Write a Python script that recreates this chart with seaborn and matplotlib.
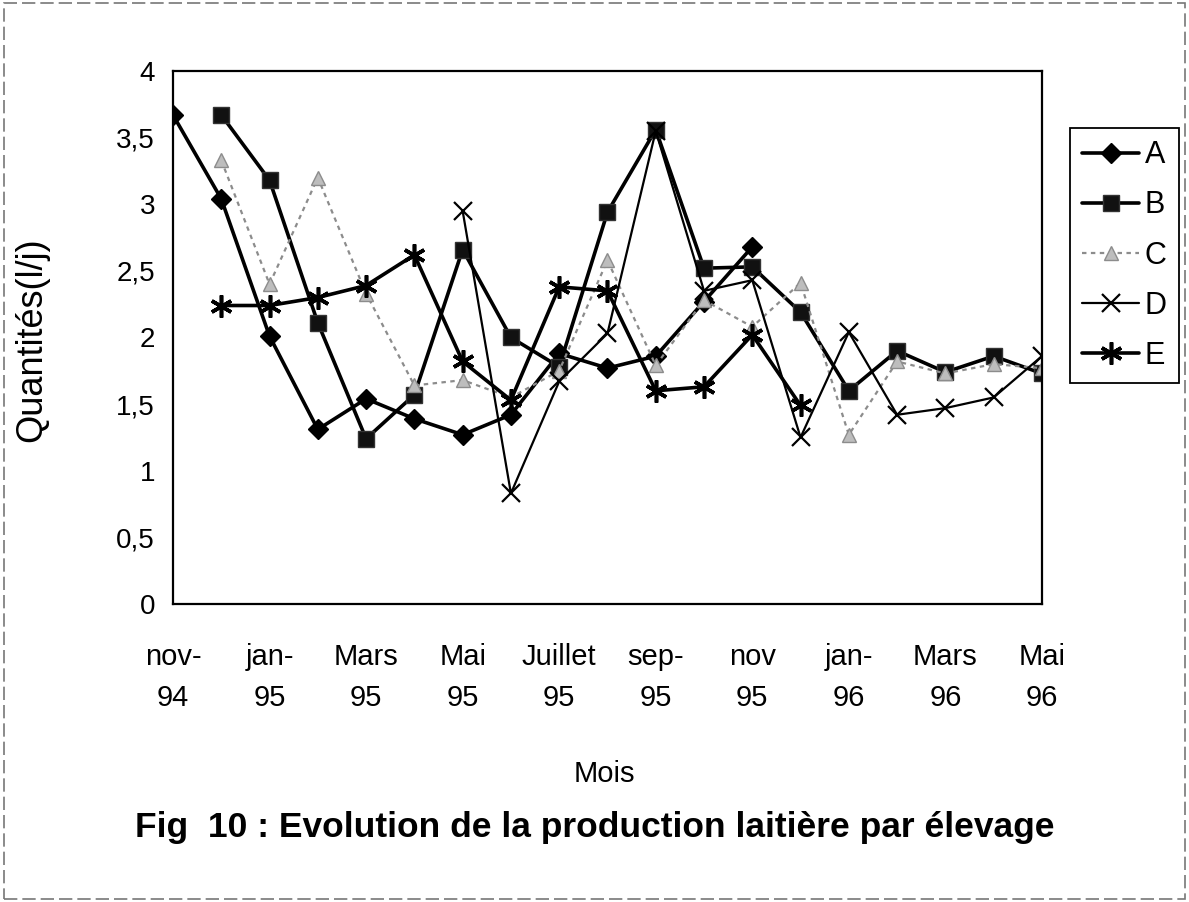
import numpy as np
import pandas as pd
import matplotlib.pyplot as plt
import seaborn as sns
from matplotlib.patches import Rectangle

sns.set_style("white")
plt.rcParams['font.family'] = ['Liberation Sans', 'DejaVu Sans']
plt.rcParams['text.color'] = 'black'
plt.rcParams['axes.labelcolor'] = 'black'

# Mois de nov-94 a mai-96
mois = ['nov-94', 'dec-94', 'jan-95', 'fev-95', 'mar-95', 'avr-95', 'mai-95',
        'jun-95', 'jul-95', 'aou-95', 'sep-95', 'oct-95', 'nov-95', 'dec-95',
        'jan-96', 'fev-96', 'mar-96', 'avr-96', 'mai-96']
etiquettes = ['nov-\n94', '', 'jan-\n95', '', 'Mars\n95', '', 'Mai\n95', '',
              'Juillet\n95', '', 'sep-\n95', '', 'nov\n95', '', 'jan-\n96', '',
              'Mars\n96', '', 'Mai\n96']

# Quantites (l/j) par elevage, NaN = pas de mesure
A = [3.67, 3.04, 2.01, 1.31, 1.54, 1.39, 1.27, 1.42, 1.88, 1.77, 1.86, 2.27, 2.68,
     np.nan, np.nan, np.nan, np.nan, np.nan, np.nan]
B = [np.nan, 3.67, 3.18, 2.11, 1.24, 1.57, 2.66, 2.00, 1.78, 2.94, 3.56, 2.52, 2.53,
     2.19, 1.60, 1.90, 1.74, 1.86, 1.73]
C = [np.nan, 3.33, 2.40, 3.20, 2.33, 1.64, 1.68, 1.55, 1.75, 2.58, 1.79, 2.28, 2.08,
     2.41, 1.27, 1.82, 1.73, 1.80, 1.77]
D = [np.nan, np.nan, np.nan, np.nan, np.nan, np.nan, 2.95, 0.83, 1.67, 2.03, 3.55,
     2.35, 2.43, 1.25, 2.04, 1.42, 1.47, 1.55, 1.86]
E = [np.nan, 2.24, 2.24, 2.30, 2.39, 2.62, 1.82, 1.53, 2.38, 2.35, 1.60, 1.63, 2.02,
     1.49, np.nan, np.nan, np.nan, np.nan, np.nan]

series = {'A': A, 'B': B, 'C': C, 'D': D, 'E': E}
df = pd.concat([pd.DataFrame({'rang': np.arange(len(mois)), 'mois': mois,
                              'quantite': v, 'elevage': k})
                for k, v in series.items()], ignore_index=True)
df = df.dropna()

styles = {
    'A': dict(color='black', lw=2.6, linestyle='-', marker='D', markersize=10,
              markerfacecolor='black', markeredgecolor='black', markeredgewidth=1),
    'B': dict(color='black', lw=2.6, linestyle='-', marker='s', markersize=12,
              markerfacecolor='#111111', markeredgecolor='#333333', markeredgewidth=1),
    'C': dict(color='#8c8c8c', lw=1.6, linestyle=(0, (2, 2)), marker='^', markersize=10,
              markerfacecolor='#bdbdbd', markeredgecolor='#8c8c8c', markeredgewidth=1),
    'D': dict(color='black', lw=1.6, linestyle='-', marker='x', markersize=13,
              markeredgecolor='black', markeredgewidth=1.6),
    'E': dict(color='black', lw=2.6, linestyle='-', marker=(6, 2, 0), markersize=16,
              markeredgecolor='black', markeredgewidth=2.6),
}

fig = plt.figure(figsize=(11.89, 9.02), dpi=100)
ax = fig.add_axes([0.1455, 0.3304, 0.7308, 0.5909])

for nom in series:
    sub = df[df['elevage'] == nom]
    sns.lineplot(data=sub, x='rang', y='quantite', ax=ax, label=nom,
                 estimator=None, sort=False, **styles[nom])

ax.set_xlim(0, len(mois) - 1)
ax.set_ylim(0, 4)
ax.set_xticks(np.arange(len(mois)))
ax.set_xticklabels(etiquettes, fontsize=21, linespacing=1.6)
yt = np.arange(0, 4.01, 0.5)
ax.set_yticks(yt)
ax.set_yticklabels([f'{v:g}'.replace('.', ',') for v in yt], fontsize=20)
ax.tick_params(axis='x', direction='inout', length=16, width=1.3, pad=20, colors='black')
ax.tick_params(axis='y', direction='inout', length=14, width=1.0, pad=6, colors='black')

for s in ax.spines.values():
    s.set_color('black')
    s.set_linewidth(1.6)

ax.set_xlabel('Mois', fontsize=21)
ax.xaxis.set_label_coords(0.497, -0.293)
ax.set_ylabel('Quantités(l/j)', fontsize=26)
ax.yaxis.set_label_coords(-0.142, 0.495)

leg = ax.legend(loc='upper left', bbox_to_anchor=(0.9, 0.858),
                bbox_transform=fig.transFigure, fontsize=22, frameon=True,
                fancybox=False, framealpha=1, edgecolor='black',
                handlelength=1.85, handletextpad=0.2, labelspacing=0.66,
                borderpad=0.4, borderaxespad=0)
leg.get_frame().set_linewidth(1.3)
for t in leg.get_texts():
    t.set_color('black')

fig.text(0.5, 0.083, 'Fig  10 : Evolution de la production laitière par élevage',
         ha='center', va='center', fontsize=25.5, fontweight='bold', color='black')

fig.patches.append(Rectangle((0.003, 0.003), 0.994, 0.994, transform=fig.transFigure,
                             fill=False, edgecolor='#777777', lw=1.2,
                             linestyle=(0, (8, 3))))

fig.savefig('out.png', dpi=100, facecolor='white')
